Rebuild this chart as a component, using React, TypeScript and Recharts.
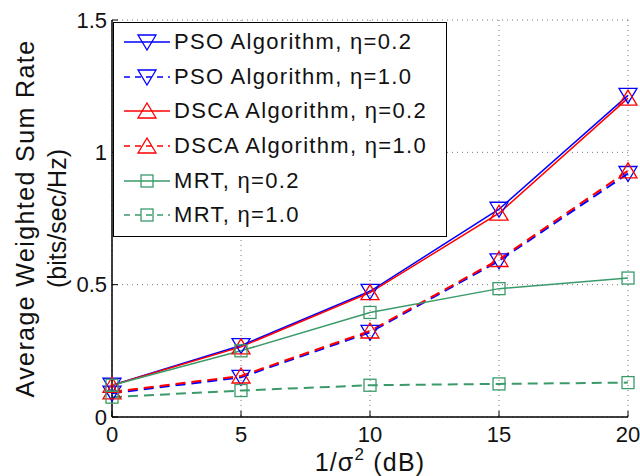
import { LineChart, Line, XAxis, YAxis, CartesianGrid, Legend } from 'recharts'

const snr = [0, 5, 10, 15, 20]
const psoLow = [0.12, 0.27, 0.475, 0.785, 1.215]
const psoHigh = [0.09, 0.15, 0.32, 0.59, 0.92]
const dscaLow = [0.12, 0.265, 0.47, 0.77, 1.205]
const dscaHigh = [0.095, 0.155, 0.325, 0.595, 0.93]
const mrtLow = [0.12, 0.25, 0.395, 0.485, 0.525]
const mrtHigh = [0.075, 0.1, 0.12, 0.125, 0.13]

const xTicks = [0, 5, 10, 15, 20]
const yTicks = [0, 0.5, 1, 1.5]

const BLUE = '#0000ff'
const RED = '#ff0000'
const GREEN = '#3a9a6a'
const DASH = '10 6'

const data = snr.map((x, i) => ({
  x,
  psoLow: psoLow[i],
  psoHigh: psoHigh[i],
  dscaLow: dscaLow[i],
  dscaHigh: dscaHigh[i],
  mrtLow: mrtLow[i],
  mrtHigh: mrtHigh[i]
}))

type Marker = 'down' | 'up' | 'square'

const series: { key: string; name: string; color: string; dashed: boolean; marker: Marker }[] = [
  { key: 'psoLow', name: 'PSO Algorithm, η=0.2', color: BLUE, dashed: false, marker: 'down' },
  { key: 'psoHigh', name: 'PSO Algorithm, η=1.0', color: BLUE, dashed: true, marker: 'down' },
  { key: 'dscaLow', name: 'DSCA Algorithm, η=0.2', color: RED, dashed: false, marker: 'up' },
  { key: 'dscaHigh', name: 'DSCA Algorithm, η=1.0', color: RED, dashed: true, marker: 'up' },
  { key: 'mrtLow', name: 'MRT, η=0.2', color: GREEN, dashed: false, marker: 'square' },
  { key: 'mrtHigh', name: 'MRT, η=1.0', color: GREEN, dashed: true, marker: 'square' }
]

function markerShape(type: Marker, cx: number, cy: number, color: string) {
  if (type === 'down') {
    return <polygon points={`${cx - 9},${cy - 7} ${cx + 9},${cy - 7} ${cx},${cy + 8}`} fill="none" stroke={color} strokeWidth={1.3} />
  }
  if (type === 'up') {
    return <polygon points={`${cx - 9},${cy + 7} ${cx + 9},${cy + 7} ${cx},${cy - 8}`} fill="none" stroke={color} strokeWidth={1.3} />
  }
  return <rect x={cx - 6} y={cy - 6} width={12} height={12} fill="none" stroke={color} strokeWidth={1.3} />
}

const makeDot = (type: Marker, color: string) => (props: any) => {
  const { cx, cy, index } = props
  if (cx == null || cy == null) return <g key={index} />
  return <g key={index}>{markerShape(type, cx, cy, color)}</g>
}

function LegendBox() {
  return (
    <div
      style={{
        width: 334,
        height: 215,
        boxSizing: 'border-box',
        border: '1.5px solid #000',
        background: '#fff',
        paddingTop: 2
      }}
    >
      {series.map((s) => (
        <div key={s.key} style={{ display: 'flex', alignItems: 'center', height: 34.6 }}>
          <svg width={60} height={30} style={{ flex: 'none' }}>
            <line
              x1={10}
              x2={56}
              y1={15}
              y2={15}
              stroke={s.color}
              strokeWidth={1.5}
              strokeDasharray={s.dashed ? '6 5' : undefined}
            />
            {markerShape(s.marker, 33, 15, s.color)}
          </svg>
          <span style={{ fontSize: 22, letterSpacing: 1.3, color: '#111', whiteSpace: 'nowrap' }}>{s.name}</span>
        </div>
      ))}
    </div>
  )
}

function YTitle(props: any) {
  const vb = props.viewBox || { x: 0, y: 20, width: 112, height: 397 }
  const cy = vb.y + vb.height / 2
  return (
    <g>
      <text x={25} y={cy} transform={`rotate(-90 25 ${cy})`} textAnchor="middle" dominantBaseline="central" fontSize={25} letterSpacing={1.4} fill="#111">
        Average Weighted Sum Rate
      </text>
      <text x={57} y={cy} transform={`rotate(-90 57 ${cy})`} textAnchor="middle" dominantBaseline="central" fontSize={25} fill="#111">
        (bits/sec/Hz)
      </text>
    </g>
  )
}

function XTitle(props: any) {
  const vb = props.viewBox || { x: 112, y: 417, width: 516, height: 59 }
  const cx = vb.x + vb.width / 2
  return (
    <text x={cx} y={471} textAnchor="middle" fontSize={25} letterSpacing={1.2} fill="#111">
      1/σ<tspan fontSize={17} dy={-11}>2</tspan>
      <tspan dy={11}> (dB)</tspan>
    </text>
  )
}

const frame = { stroke: '#000', strokeWidth: 1.5 }

export default function App() {
  return (
    <div
      style={{
        position: 'absolute',
        left: 0,
        top: 0,
        width: 640,
        height: 476,
        background: '#fff',
        fontFamily: 'Arial, "Liberation Sans", Helvetica, sans-serif',
        overflow: 'hidden'
      }}
    >
      <LineChart width={640} height={476} data={data} margin={{ top: 20, right: 12, bottom: 0, left: 0 }}>
        <CartesianGrid stroke="#777" strokeDasharray="1 4" strokeWidth={1} />
        <XAxis
          dataKey="x"
          type="number"
          domain={[0, 20]}
          ticks={xTicks}
          height={59}
          tickSize={-6}
          tickMargin={15}
          tickLine={{ stroke: '#000' }}
          axisLine={frame}
          tick={{ fontSize: 22, fill: '#111' }}
          label={<XTitle />}
        />
        <XAxis
          xAxisId="top"
          orientation="top"
          type="number"
          domain={[0, 20]}
          ticks={xTicks}
          height={0}
          tick={false}
          tickSize={-6}
          tickLine={{ stroke: '#000' }}
          axisLine={frame}
        />
        <YAxis
          type="number"
          domain={[0, 1.5]}
          ticks={yTicks}
          width={112}
          tickSize={-6}
          tickMargin={11}
          tickLine={{ stroke: '#000' }}
          axisLine={frame}
          tick={{ fontSize: 22, fill: '#111' }}
          label={<YTitle />}
        />
        <YAxis
          yAxisId="right"
          orientation="right"
          type="number"
          domain={[0, 1.5]}
          ticks={yTicks}
          width={0}
          tick={false}
          tickSize={-6}
          tickLine={{ stroke: '#000' }}
          axisLine={frame}
        />
        {series.map((s) => (
          <Line
            key={s.key}
            type="linear"
            dataKey={s.key}
            name={s.name}
            stroke={s.color}
            strokeWidth={s.dashed ? 2 : 1.5}
            strokeDasharray={s.dashed ? DASH : undefined}
            dot={makeDot(s.marker, s.color)}
            activeDot={false}
            isAnimationActive={false}
          />
        ))}
        <Legend
          layout="horizontal"
          verticalAlign="middle"
          align="center"
          wrapperStyle={{ top: 22, left: 113, width: 334, height: 215 }}
          content={() => <LegendBox />}
        />
      </LineChart>
    </div>
  )
}
